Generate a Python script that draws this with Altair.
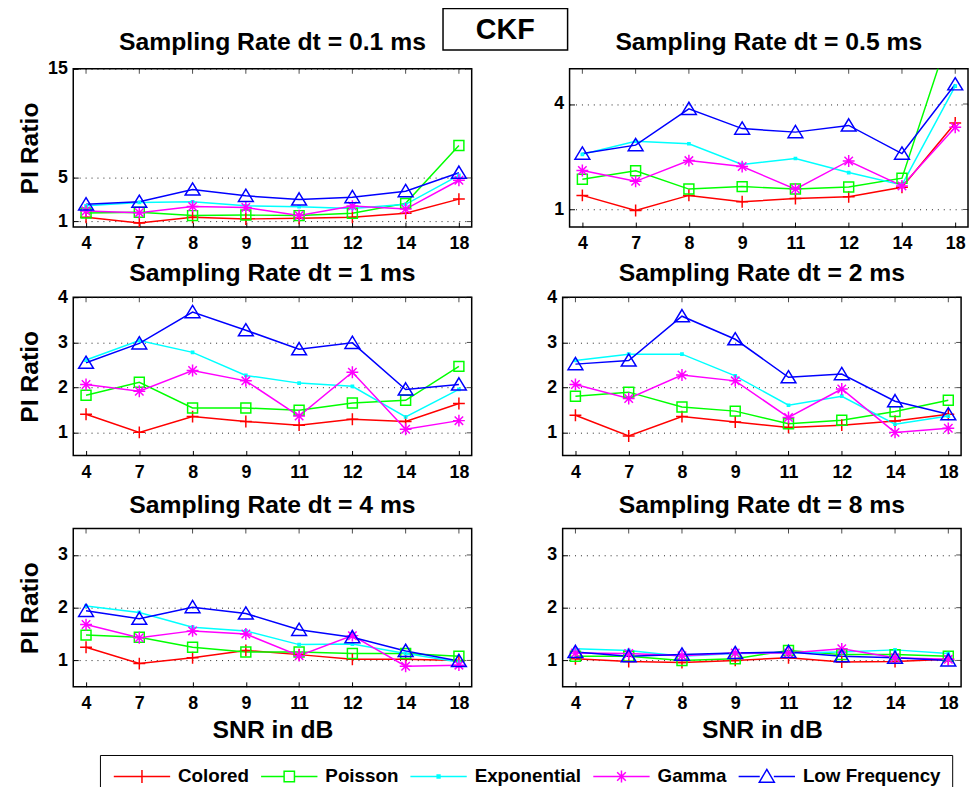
import altair as alt
import pandas as pd

FONT = "Liberation Sans"

SNR = [4, 7, 8, 9, 11, 12, 14, 18]
SERIES = ["Colored", "Poisson", "Exponential", "Gamma", "Low Frequency"]
COLORS = ["#ff0000", "#00ff00", "#00ffff", "#ff00ff", "#0000ff"]
TITLES = [
    "Sampling Rate dt = 0.1 ms", "Sampling Rate dt = 0.5 ms",
    "Sampling Rate dt = 1 ms", "Sampling Rate dt = 2 ms",
    "Sampling Rate dt = 4 ms", "Sampling Rate dt = 8 ms",
]

# dt = 0.1 ms
dt01_colored = [1.39, 0.88, 1.39, 1.24, 1.30, 1.39, 1.76, 3.06]
dt01_poisson = [1.79, 1.85, 1.55, 1.60, 1.55, 1.76, 2.67, 7.97]
dt01_expon = [2.45, 2.76, 2.82, 2.45, 2.36, 2.21, 2.58, 5.24]
dt01_gamma = [1.97, 1.82, 2.39, 2.30, 1.55, 2.42, 2.15, 4.79]
dt01_lowfreq = [2.58, 2.82, 3.94, 3.36, 3.03, 3.24, 3.79, 5.48]
# dt = 0.5 ms
dt05_colored = [1.40, 0.97, 1.40, 1.22, 1.31, 1.36, 1.63, 3.46]
dt05_poisson = [1.86, 2.10, 1.58, 1.65, 1.58, 1.64, 1.89, 6.50]
dt05_expon = [2.57, 2.94, 2.87, 2.28, 2.45, 2.05, 1.70, 4.51]
dt05_gamma = [2.11, 1.80, 2.39, 2.22, 1.58, 2.38, 1.67, 3.34]
dt05_lowfreq = [2.59, 2.83, 3.86, 3.30, 3.20, 3.39, 2.59, 4.56]
# dt = 1 ms
dt1_colored = [1.41, 1.01, 1.36, 1.25, 1.17, 1.30, 1.25, 1.65]
dt1_poisson = [1.83, 2.12, 1.55, 1.55, 1.50, 1.66, 1.72, 2.47]
dt1_expon = [2.61, 3.04, 2.78, 2.27, 2.10, 2.03, 1.35, 1.96]
dt1_gamma = [2.07, 1.92, 2.38, 2.15, 1.37, 2.34, 1.08, 1.27]
dt1_lowfreq = [2.55, 2.98, 3.67, 3.27, 2.85, 2.99, 1.96, 2.07]
# dt = 2 ms
dt2_colored = [1.39, 0.93, 1.36, 1.24, 1.12, 1.17, 1.26, 1.41]
dt2_poisson = [1.81, 1.90, 1.57, 1.48, 1.20, 1.28, 1.47, 1.72]
dt2_expon = [2.60, 2.74, 2.74, 2.26, 1.61, 1.81, 1.19, 1.37]
dt2_gamma = [2.07, 1.76, 2.28, 2.15, 1.34, 1.97, 1.01, 1.10]
dt2_lowfreq = [2.52, 2.60, 3.58, 3.07, 2.23, 2.30, 1.70, 1.41]
# dt = 4 ms
dt4_colored = [1.25, 0.94, 1.05, 1.19, 1.11, 1.02, 1.02, 1.00]
dt4_poisson = [1.48, 1.44, 1.25, 1.16, 1.16, 1.13, 1.13, 1.08]
dt4_expon = [2.03, 1.91, 1.63, 1.56, 1.30, 1.31, 1.13, 0.97]
dt4_gamma = [1.68, 1.43, 1.56, 1.50, 1.09, 1.47, 0.89, 0.91]
dt4_lowfreq = [1.94, 1.79, 2.01, 1.89, 1.58, 1.44, 1.18, 0.99]
# dt = 8 ms
dt8_colored = [1.03, 0.98, 0.96, 1.00, 1.05, 0.97, 0.98, 1.02]
dt8_poisson = [1.08, 1.08, 1.00, 1.03, 1.19, 1.11, 1.11, 1.08]
dt8_expon = [1.22, 1.19, 1.08, 1.13, 1.14, 1.16, 1.20, 1.13]
dt8_gamma = [1.14, 1.13, 1.09, 1.14, 1.14, 1.22, 1.05, 1.02]
dt8_lowfreq = [1.16, 1.08, 1.11, 1.14, 1.16, 1.08, 1.05, 1.00]

PANEL_VALUES = [
    [dt01_colored, dt01_poisson, dt01_expon, dt01_gamma, dt01_lowfreq],
    [dt05_colored, dt05_poisson, dt05_expon, dt05_gamma, dt05_lowfreq],
    [dt1_colored, dt1_poisson, dt1_expon, dt1_gamma, dt1_lowfreq],
    [dt2_colored, dt2_poisson, dt2_expon, dt2_gamma, dt2_lowfreq],
    [dt4_colored, dt4_poisson, dt4_expon, dt4_gamma, dt4_lowfreq],
    [dt8_colored, dt8_poisson, dt8_expon, dt8_gamma, dt8_lowfreq],
]
Y_DOMAINS = [[0.5, 15], [0.5, 5], [0.5, 4], [0.5, 4], [0.5, 3.5], [0.5, 3.5]]
Y_TICKS = [[1, 5, 15], [1, 4], [1, 2, 3, 4], [1, 2, 3, 4], [1, 2, 3], [1, 2, 3]]

W, H = 403, 160

# marker glyphs (MATLAB style: + square . * ^)
MARKERS = [
    "M-0.8,0H0.8M0,-0.8V0.8",
    "M-0.67,-0.67H0.67V0.67H-0.67Z",
    "M-0.15,-0.15H0.15V0.15H-0.15Z",
    "M-0.8,0H0.8M0,-0.8V0.8M-0.57,-0.57L0.57,0.57M-0.57,0.57L0.57,-0.57",
    "M0,-0.9L1,0.75H-1Z",
]
# legend keys: line segment with the marker in the middle
LEGEND_GLYPHS = [
    "M-3,0H3M0,-0.7V0.7",
    "M-3,0H-0.55M0.55,0H3M-0.55,-0.55H0.55V0.55H-0.55Z",
    "M-3,0H3M-0.15,-0.15H0.15V0.15H-0.15Z",
    "M-3,0H3M0,-0.65V0.65M-0.46,-0.46L0.46,0.46M-0.46,0.46L0.46,-0.46",
    "M-3,0H-0.75M0.75,0H3M0,-0.75L0.8,0.6H-0.8Z",
]

LEGEND = alt.Legend(
    title=None, orient="none", legendX=27, legendY=694, direction="horizontal",
    symbolSize=361, symbolStrokeWidth=1.5, symbolOffset=21, labelOffset=26,
    symbolFillColor="transparent",
    columnPadding=9, padding=11, strokeColor="black", fillColor="white",
    labelFont=FONT, labelFontSize=19, labelFontWeight="bold", labelColor="black",
)


def make_panel(idx):
    left = idx % 2 == 0
    bottom = idx >= 4
    rows = []
    for s, vals in zip(SERIES, PANEL_VALUES[idx]):
        for x, v in zip(SNR, vals):
            rows.append({"snr": x, "series": s, "value": v})
    df = pd.DataFrame(rows)
    xax = alt.Axis(title="SNR in dB" if bottom else None, labelAngle=0, offset=-5,
                   tickSize=5, labelPadding=8, titlePadding=5, grid=False)
    yax = alt.Axis(title="PI Ratio" if left else None, values=Y_TICKS[idx], offset=-5,
                   tickSize=5, labelPadding=6, titlePadding=6, grid=True,
                   minExtent=30, maxExtent=30,
                   gridDash=[1, 5], gridColor="#222222", gridWidth=1)
    x_enc = alt.X("snr:O", sort=SNR, scale=alt.Scale(type="point", padding=0.24), axis=xax)
    y_enc = alt.Y("value:Q", scale=alt.Scale(domain=Y_DOMAINS[idx], nice=False, zero=False), axis=yax)
    base = alt.Chart(df).encode(
        x=x_enc, y=y_enc,
        color=alt.Color("series:N", sort=SERIES, scale=alt.Scale(domain=SERIES, range=COLORS), legend=LEGEND),
    )
    layers = [base.mark_line(strokeWidth=1.5, clip=True)]
    for s, m in zip(SERIES, MARKERS):
        layers.append(
            base.mark_point(shape=m, filled=False, size=225, strokeWidth=1.5, clip=True, opacity=1)
            .transform_filter(alt.datum.series == s)
        )
    # legend key layer (no visible marks, supplies the line+marker legend glyphs)
    layers.append(
        base.mark_point(filled=False, strokeWidth=1.5).encode(
            shape=alt.Shape("series:N", sort=SERIES, scale=alt.Scale(domain=SERIES, range=LEGEND_GLYPHS),
                            legend=LEGEND)
        ).transform_filter("false")
    )
    # inward ticks on the top and right edges of the box
    top_ticks = pd.DataFrame({"snr": SNR})
    layers.append(
        alt.Chart(top_ticks).mark_tick(orient="vertical", size=5, thickness=1, color="black")
        .encode(x=x_enc, y=alt.value(2.5))
    )
    right_ticks = pd.DataFrame({"value": Y_TICKS[idx]})
    layers.append(
        alt.Chart(right_ticks).mark_tick(orient="horizontal", size=5, thickness=1, color="black")
        .encode(y=y_enc, x=alt.value(W - 2.5))
    )
    tdf = pd.DataFrame({"title": [TITLES[idx]]})
    layers.append(
        alt.Chart(tdf).mark_text(font=FONT, fontSize=25, fontWeight="bold", color="black",
                                 align="center", baseline="alphabetic").encode(
            text="title:N", x=alt.value(W / 2), y=alt.value(-19 if idx < 2 else -16))
    )
    if idx == 0:
        ckf = pd.DataFrame({"label": ["CKF"]})
        box = alt.Chart(ckf).mark_rect(fill="white", stroke="black", strokeWidth=1.5).encode(
            x=alt.value(374), x2=alt.value(500), y=alt.value(-61), y2=alt.value(-19))
        txt = alt.Chart(ckf).mark_text(font=FONT, fontSize=29, fontWeight="bold", color="black",
                                       align="center", baseline="middle").encode(
            text="label:N", x=alt.value(437), y=alt.value(-39))
        layers += [box, txt]
    return alt.layer(*layers).properties(width=W, height=H)


p = [make_panel(i) for i in range(6)]

row1 = alt.hconcat(p[0], p[1], spacing=-32)
row2 = alt.hconcat(p[2], p[3], spacing=65)
row3 = alt.hconcat(p[4], p[5], spacing=65)
lower = alt.vconcat(row2, row3, spacing=10)

chart = alt.vconcat(row1, lower, spacing=7).properties(
    padding={"left": 9, "top": -6, "right": 0, "bottom": 0}
).configure_view(stroke="black", strokeWidth=1.5).configure_axis(
    labelFont=FONT, labelFontSize=18, labelFontWeight="bold", labelColor="black",
    titleFont=FONT, titleFontSize=25, titleFontWeight="bold", titleColor="black",
    tickColor="black", tickWidth=1, domain=False,
)

chart.save("out.html", embed_options={"renderer": "svg", "actions": False})
